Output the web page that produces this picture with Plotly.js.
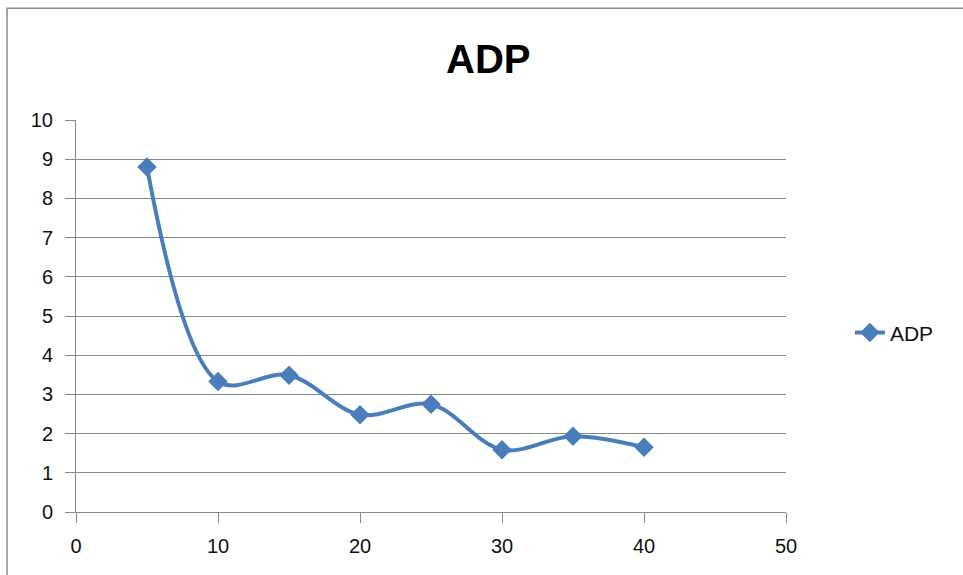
<!DOCTYPE html>
<html>
<head>
<meta charset="utf-8">
<script src="https://cdn.plot.ly/plotly-3.0.1.min.js"></script>
<style>
  html, body { margin: 0; padding: 0; background: #ffffff; }
  #chart { width: 963px; height: 575px; }
</style>
</head>
<body>
<div id="chart"></div>
<script>
const seriesName = "ADP";
const xValues = [5, 10, 15, 20, 25, 30, 35, 40];
const yValues = [8.8, 3.33, 3.49, 2.48, 2.75, 1.59, 1.93, 1.65];
const xTicks = [0, 10, 20, 30, 40, 50];
const yTicks = [0, 1, 2, 3, 4, 5, 6, 7, 8, 9, 10];

const lineColor = "#4A7EBB";
const gridColor = "#878787";
const textColor = "#111111";
const fontFam = "'Liberation Sans', Arial, sans-serif";

const trace = {
  x: xValues,
  y: yValues,
  name: seriesName,
  type: "scatter",
  mode: "lines+markers",
  line: { color: lineColor, width: 4, shape: "spline", smoothing: 1 },
  marker: { symbol: "diamond", size: 15, color: lineColor }
};

const layout = {
  width: 963,
  height: 575,
  margin: { l: 76, r: 177, t: 120, b: 62.5, pad: 0 },
  paper_bgcolor: "#ffffff",
  plot_bgcolor: "#ffffff",
  font: { family: fontFam, size: 20, color: textColor },
  title: {
    text: "<b>ADP</b>",
    font: { family: fontFam, size: 40, color: "#000000" },
    xref: "container", yref: "container",
    x: 0.507, xanchor: "center",
    y: 1 - 59 / 575, yanchor: "middle"
  },
  xaxis: {
    range: [0, 50],
    tickvals: xTicks,
    ticktext: xTicks.map(String),
    showgrid: false,
    zeroline: false,
    showline: true,
    linecolor: gridColor,
    linewidth: 1,
    ticks: "outside",
    ticklen: 10,
    tickcolor: gridColor,
    tickfont: { family: fontFam, size: 20, color: textColor },
    ticklabelstandoff: 6,
    fixedrange: true
  },
  yaxis: {
    range: [0, 10],
    tickvals: yTicks,
    ticktext: yTicks.map(String),
    showgrid: true,
    gridcolor: gridColor,
    gridwidth: 1,
    zeroline: false,
    showline: true,
    linecolor: gridColor,
    linewidth: 1,
    ticks: "outside",
    ticklen: 10,
    tickcolor: gridColor,
    tickfont: { family: fontFam, size: 20, color: textColor },
    ticklabelstandoff: 8,
    fixedrange: true
  },
  showlegend: true,
  legend: {
    x: 1.09, xanchor: "left",
    y: 0.457, yanchor: "middle",
    font: { family: fontFam, size: 21, color: textColor },
    bgcolor: "rgba(0,0,0,0)",
    borderwidth: 0
  },
  shapes: [{
    type: "rect",
    xref: "paper", yref: "paper",
    x0: (7 - 76) / 710, x1: (975 - 76) / 710,
    y0: (512.5 - 590) / 392.5, y1: (512.5 - 8) / 392.5,
    line: { color: "#8c8c8c", width: 1.5 },
    fillcolor: "rgba(0,0,0,0)",
    layer: "below"
  }]
};

Plotly.newPlot("chart", [trace], layout, { displayModeBar: false, staticPlot: true });
</script>
</body>
</html>
